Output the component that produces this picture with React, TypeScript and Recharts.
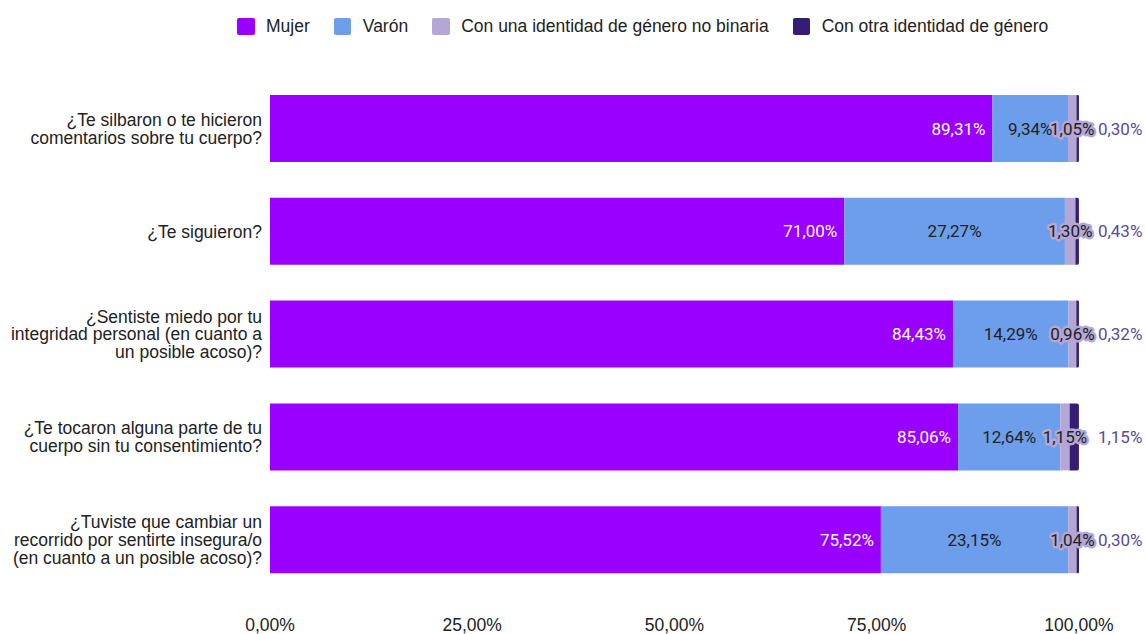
import { BarChart, Bar, XAxis, YAxis, Legend, LabelList } from 'recharts';

const categories = [
  '¿Te silbaron o te hicieron\ncomentarios sobre tu cuerpo?',
  '¿Te siguieron?',
  '¿Sentiste miedo por tu\nintegridad personal (en cuanto a\nun posible acoso)?',
  '¿Te tocaron alguna parte de tu\ncuerpo sin tu consentimiento?',
  '¿Tuviste que cambiar un\nrecorrido por sentirte insegura/o\n(en cuanto a un posible acoso)?',
];
const mujer = [89.31, 71.0, 84.43, 85.06, 75.52];
const varon = [9.34, 27.27, 14.29, 12.64, 23.15];
const noBinaria = [1.05, 1.3, 0.96, 1.15, 1.04];
const otra = [0.3, 0.43, 0.32, 1.15, 0.3];
const xTicks = [0, 25, 50, 75, 100];

const seriesNames = ['Mujer', 'Varón', 'Con una identidad de género no binaria', 'Con otra identidad de género'];
const colors = ['#9900ff', '#6d9eeb', '#b4a7d6', '#351c75'];

const data = categories.map((c, i) => ({
  name: c,
  mujer: mujer[i],
  varon: varon[i],
  noBinaria: noBinaria[i],
  otra: otra[i],
}));

const FONT = '"Liberation Sans", Arial, sans-serif';
const LABEL_FONT = 'Roboto, "Noto Sans", sans-serif';
const fmt = (v: number) => v.toFixed(2).replace('.', ',') + '%';

function CategoryTick({ x, y, payload }: any) {
  const lines = String(payload.value).split('\n');
  const lh = 17.8;
  const start = y - ((lines.length - 1) * lh) / 2;
  return (
    <text x={x} y={start} textAnchor="end" fill="#222" fontFamily={FONT} fontSize={17.5}>
      {lines.map((l, i) => (
        <tspan key={i} x={x} y={start + i * lh} dy="0.36em">{l}</tspan>
      ))}
    </text>
  );
}

function PercentTick({ x, y, payload }: any) {
  return (
    <text x={x} y={y + 39.5} textAnchor="middle" fill="#222" fontFamily={FONT} fontSize={17.5}>
      {fmt(payload.value)}
    </text>
  );
}

function LegendBox() {
  return (
    <div style={{ display: 'flex', alignItems: 'center', fontFamily: FONT, fontSize: 17.5, color: '#222' }}>
      {seriesNames.map((n, i) => (
        <div key={n} style={{ display: 'flex', alignItems: 'center', marginRight: 24 }}>
          <span style={{ width: 17.5, height: 17.5, borderRadius: 2, background: colors[i], marginRight: 11.5, display: 'inline-block' }} />
          <span>{n}</span>
        </div>
      ))}
    </div>
  );
}

const insideEnd = (props: any) => {
  const { x, y, width, height, value } = props;
  return (
    <text x={x + width - 7} y={y + height / 2} dy="0.36em" textAnchor="end" fill="#fff" fontFamily={LABEL_FONT} fontSize={17}>
      {fmt(value)}
    </text>
  );
};

const centered = (props: any) => {
  const { x, y, width, height, value } = props;
  return (
    <text x={x + width / 2} y={y + height / 2} dy="0.36em" textAnchor="middle" fill="#222" fontFamily={LABEL_FONT} fontSize={17}>
      {fmt(value)}
    </text>
  );
};

const halo = (props: any) => {
  const { x, y, width, height, value } = props;
  return (
    <text x={x + width / 2} y={y + height / 2} dy="0.36em" textAnchor="middle" fill="#222" stroke="#b4a7d6"
      strokeWidth={5} strokeLinejoin="round" paintOrder="stroke" fontFamily={LABEL_FONT} fontSize={17}>
      {fmt(value)}
    </text>
  );
};

const outside = (props: any) => {
  const { x, y, width, height, value } = props;
  return (
    <text x={x + width + 19} y={y + height / 2} dy="0.36em" textAnchor="start" fill="#5a4b96" fontFamily={LABEL_FONT} fontSize={17}>
      {fmt(value)}
    </text>
  );
};

export default function App() {
  return (
    <div style={{ position: 'absolute', left: 0, top: 0, background: '#fff' }}>
      <BarChart width={1145} height={634} data={data} layout="vertical" margin={{ top: 77, right: 66, left: 0, bottom: 13 }}>
        <XAxis type="number" domain={[0, 100]} ticks={xTicks} axisLine={false} tickLine={false} tickSize={0} tickMargin={0}
          height={30} tick={<PercentTick />} interval={0} />
        <YAxis type="category" dataKey="name" width={270} axisLine={false} tickLine={false} tickSize={0} tickMargin={8}
          tick={<CategoryTick />} interval={0} />
        <Legend verticalAlign="middle" layout="horizontal" content={<LegendBox />}
          wrapperStyle={{ top: 16, left: 237, width: 900 }} />
        <Bar dataKey="mujer" name={seriesNames[0]} stackId="a" fill={colors[0]} barSize={67} isAnimationActive={false}>
          <LabelList dataKey="mujer" content={insideEnd} />
        </Bar>
        <Bar dataKey="varon" name={seriesNames[1]} stackId="a" fill={colors[1]} barSize={67} isAnimationActive={false}>
          <LabelList dataKey="varon" content={centered} />
        </Bar>
        <Bar dataKey="noBinaria" name={seriesNames[2]} stackId="a" fill={colors[2]} barSize={67} isAnimationActive={false}>
          <LabelList dataKey="noBinaria" content={halo} />
        </Bar>
        <Bar dataKey="otra" name={seriesNames[3]} stackId="a" fill={colors[3]} barSize={67} radius={[0, 2, 2, 0]} isAnimationActive={false}>
          <LabelList dataKey="otra" content={outside} />
        </Bar>
      </BarChart>
    </div>
  );
}
